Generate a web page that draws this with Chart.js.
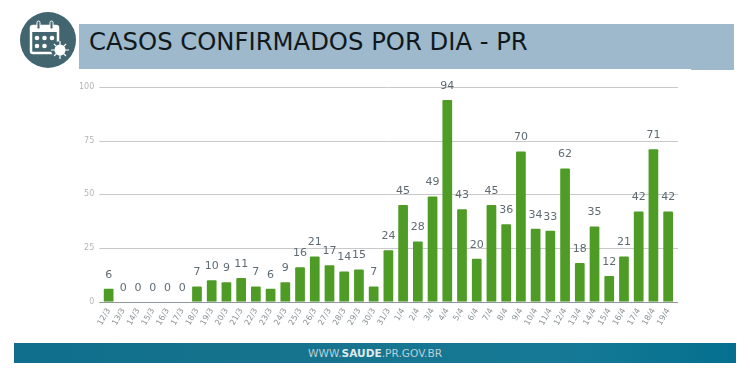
<!DOCTYPE html>
<html lang="pt-BR">
<head>
    <meta charset="UTF-8">
    <title>Casos confirmados por dia - PR</title>
    <script src="https://cdn.jsdelivr.net/npm/chart.js"></script>
    <style>
        html, body { margin: 0; padding: 0; background: #fff; width: 750px; height: 372px; overflow: hidden; }
        .band { position: absolute; left: 79px; top: 24px; width: 655px; height: 45px; background: #9db9cb; }
        .band-notch { position: absolute; left: 691px; top: 69px; width: 43px; height: 1px; background: #9db9cb; }
        .title { position: absolute; left: 89px; top: 27px; font: 24.3px "DejaVu Sans", sans-serif; color: #10181c; white-space: nowrap; }
        .icon { position: absolute; left: 20px; top: 12px; }
        .footer { position: absolute; left: 14px; top: 343px; width: 722px; height: 20px;
            background: linear-gradient(90deg, #0f6f8c 0%, #17748e 45%, #167a96 75%, #04708f 100%); }
        .footer span { position: absolute; left: 294px; top: 4px; font: 10.6px "DejaVu Sans", sans-serif; color: #b9d0d8; white-space: nowrap; }
        .footer b { color: #dfeaee; }
        #casesChart { position: absolute; left: 0; top: 0; }
    </style>
</head>
<body>
    <div class="band"></div>
    <div class="band-notch"></div>
    <div class="title">CASOS CONFIRMADOS POR DIA - PR</div>
    <svg class="icon" width="56" height="56" viewBox="0 0 56 56">
        <circle cx="28" cy="28" r="28" fill="#42656f"/>
        <rect x="11" y="14" width="27" height="27" rx="2" fill="none" stroke="#fff" stroke-width="2.5"/>
        <rect x="11" y="14" width="27" height="6" fill="#fff"/>
        <rect x="17" y="9" width="3" height="8" rx="1.5" fill="#42656f" stroke="#fff"/>
        <rect x="30" y="9" width="3" height="8" rx="1.5" fill="#42656f" stroke="#fff"/>
        <g fill="#fff">
            <circle cx="17" cy="26" r="2.3"/><circle cx="24.500" cy="26" r="2.300"/><circle cx="32" cy="26" r="2.300"/>
            <circle cx="17" cy="34" r="2.300"/><circle cx="24.500" cy="34" r="2.300"/>
        </g>
        <circle cx="40" cy="38" r="9" fill="#42656f"/>
        <circle cx="40" cy="38" r="5.500" fill="#fff"/>
        <path d="M40 29v18M31 38h18M34 32l12 12M46 32L34 44" stroke="#fff" stroke-width="1.200"/>
    </svg>
    <div class="footer"><span>WWW.<b>SAUDE</b>.PR.GOV.BR</span></div>
    <canvas id="casesChart" width="750" height="372"></canvas>

    <script>
        const days = ['12/3','13/3','14/3','15/3','16/3','17/3','18/3','19/3','20/3','21/3','22/3','23/3','24/3','25/3','26/3','27/3','28/3','29/3','30/3','31/3',
            '1/4','2/4','3/4','4/4','5/4','6/4','7/4','8/4','9/4','10/4','11/4','12/4','13/4','14/4','15/4','16/4','17/4','18/4','19/4'];
        const cases = [6,0,0,0,0,0,7,10,9,11,7,6,9,16,21,17,14,15,7,24,45,28,49,94,43,20,45,36,70,34,33,62,18,35,12,21,42,71,42];
        const yTicks = [0, 25, 50, 75, 100];

        // grid lines in the original stick out a bit past the plot on both sides
        const longGrid = {
            id: 'longGrid',
            beforeDatasetsDraw(chart) {
                const c = chart.ctx;
                const area = chart.chartArea;
                c.save();
                yTicks.forEach(v => {
                    const y = Math.round(chart.scales.y.getPixelForValue(v)) + 0.5;
                    c.strokeStyle = v === 0 ? '#8e979c' : '#c9c9c9';
                    c.beginPath();
                    c.moveTo(area.left - 2, y);
                    c.lineTo(area.right + 2.5, y);
                    c.stroke();
                });
                c.restore();
            }
        };

        // no datalabels plugin available, so draw the numbers over the bars here
        const valueLabels = {
            id: 'valueLabels',
            afterDatasetsDraw(chart) {
                const c = chart.ctx;
                c.save();
                c.font = '11px "DejaVu Sans", sans-serif';
                c.fillStyle = '#5f6b73';
                c.textAlign = 'center';
                c.textBaseline = 'middle';
                chart.getDatasetMeta(0).data.forEach((bar, i) => {
                    c.fillText(cases[i], bar.x, bar.y - 14);
                });
                c.restore();
            }
        };

        const ctx = document.getElementById('casesChart').getContext('2d');
        new Chart(ctx, {
            type: 'bar',
            data: {
                labels: days,
                datasets: [{
                    data: cases,
                    backgroundColor: '#4e9c26',
                    borderRadius: 1,
                    barPercentage: 0.66,
                    categoryPercentage: 1
                }]
            },
            options: {
                responsive: false,
                animation: false,
                layout: { padding: { left: 72, right: 74.5, top: 87, bottom: 40 } },
                plugins: { legend: { display: false }, tooltip: { enabled: false } },
                scales: {
                    x: {
                        grid: { display: false, drawTicks: false },
                        border: { display: false },
                        ticks: {
                            color: '#8a9196',
                            font: { size: 8, family: '"DejaVu Sans", sans-serif' },
                            minRotation: 60,
                            maxRotation: 60,
                            autoSkip: false,
                            padding: 5
                        }
                    },
                    y: {
                        min: 0,
                        max: 100,
                        afterBuildTicks(axis) { axis.ticks = yTicks.map(v => ({ value: v })); },
                        grid: { display: false, drawTicks: false },
                        border: { display: false },
                        ticks: {
                            color: '#b5b5b5',
                            font: { size: 8, family: '"DejaVu Sans", sans-serif' },
                            padding: 7
                        }
                    }
                }
            },
            plugins: [longGrid, valueLabels]
        });
    </script>
</body>
</html>
